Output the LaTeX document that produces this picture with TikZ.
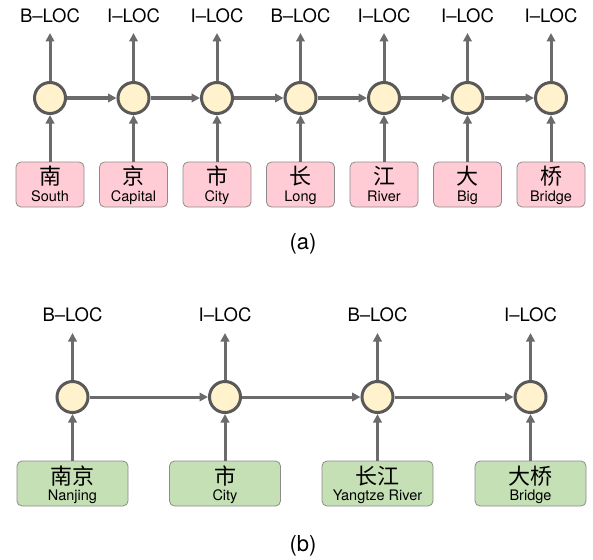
\documentclass[tikz,border=0pt]{standalone}
\usepackage{fontspec}
\setmainfont{TeX Gyre Heros}
\newfontfamily\cjk{Noto Sans CJK SC}
\usetikzlibrary{arrows.meta}
\definecolor{arrowgray}{HTML}{6B6B6B}
\definecolor{circfill}{HTML}{FFF2CC}
\definecolor{circdraw}{HTML}{595959}
\definecolor{pinkfill}{HTML}{FFCCD5}
\definecolor{greenfill}{HTML}{C5E0B4}
\definecolor{boxdraw}{HTML}{8C8C8C}
\tikzset{
  cell/.style={circle, draw=circdraw, fill=circfill, line width=3pt, minimum size=31pt, inner sep=0pt},
  conn/.style={draw=arrowgray, line width=3pt, -{Triangle[length=8.5pt,width=8.5pt]}},
  tag/.style={font=\fontsize{18.5}{20}\selectfont, inner sep=0pt, anchor=base},
  pinkbox/.style={draw=boxdraw, fill=pinkfill, line width=0.8pt, rounded corners=5pt, minimum width=68pt, minimum height=45pt, inner sep=0pt},
  greenbox/.style={draw=boxdraw, fill=greenfill, line width=0.8pt, rounded corners=5pt, minimum width=111pt, minimum height=45pt, inner sep=0pt},
  zh/.style={font=\cjk\fontsize{22}{23}\selectfont, inner sep=0pt},
  en/.style={font=\fontsize{14.5}{16}\selectfont, inner sep=0pt, anchor=base},
  caption/.style={font=\fontsize{22}{24}\selectfont, inner sep=0pt}
}
\begin{document}
\begin{tikzpicture}[x=1pt,y=-1pt]
\useasboundingbox (0,0) rectangle (593,559);
% ---------- (a) ----------
\foreach \i/\x/\z/\e/\t in {1/50/南/South/B--LOC, 2/133.5/京/Capital/I--LOC, 3/217/市/City/I--LOC, 4/300.5/长/Long/B--LOC, 5/384/江/River/I--LOC, 6/467.5/大/Big/I--LOC, 7/551/桥/Bridge/I--LOC}{
  \node[cell] (a\i) at (\x,98) {};
  \node[pinkbox] (ab\i) at (\x,184.5) {};
  \node[zh] (az\i) at (\x,176.5) {\z};
  \node[en] (ae\i) at (\x,201) {\e};
  \node[tag] (at\i) at (\x,22.7) {\t};
  \coordinate (atop\i) at (\x,33);
  \draw[conn] (a\i.north) -- (atop\i);
  \draw[conn] (ab\i.north) -- (a\i.south);
}
\foreach \i/\j in {1/2,2/3,3/4,4/5,5/6,6/7}{
  \draw[conn] (a\i.east) -- (a\j.west);
}
\node[caption] (capa) at (303,244) {(a)};
% ---------- (b) ----------
\foreach \i/\x/\z/\e/\t in {1/72.5/南京/Nanjing/B--LOC, 2/225/市/City/I--LOC, 3/377.5/长江/Yangtze River/B--LOC, 4/530.5/大桥/Bridge/I--LOC}{
  \node[cell] (b\i) at (\x,397) {};
  \node[greenbox] (bb\i) at (\x,483.5) {};
  \node[zh] (bz\i) at (\x,476) {\z};
  \node[en] (be\i) at (\x,500.5) {\e};
  \node[tag] (bt\i) at (\x,321.7) {\t};
  \coordinate (btop\i) at (\x,333);
  \draw[conn] (b\i.north) -- (btop\i);
  \draw[conn] (bb\i.north) -- (b\i.south);
}
\foreach \i/\j in {1/2,2/3,3/4}{
  \draw[conn] (b\i.east) -- (b\j.west);
}
\node[caption] (capb) at (303,546) {(b)};
\end{tikzpicture}
\end{document}
